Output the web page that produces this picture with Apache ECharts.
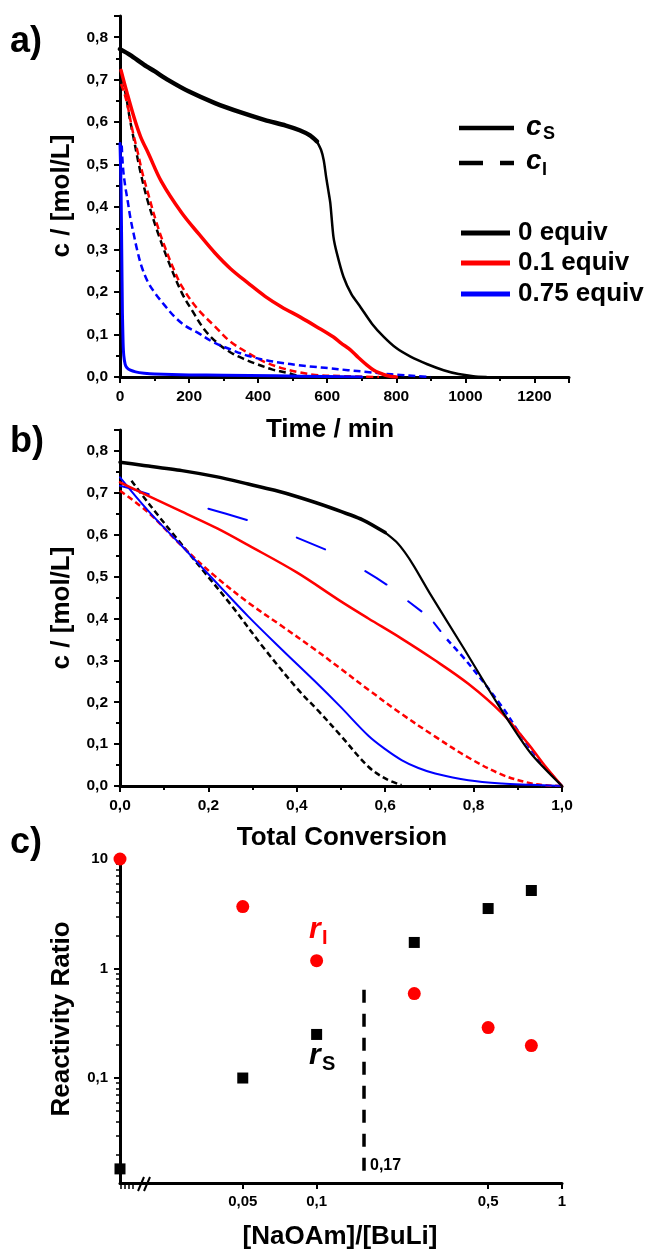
<!DOCTYPE html>
<html><head><meta charset="utf-8">
<script src="https://cdn.jsdelivr.net/npm/echarts@6/dist/echarts.min.js"></script>
<style>html,body{margin:0;padding:0;background:#fff}#c{width:651px;height:1251px}</style>
</head><body><div id="c"></div>
<script>
// ---------- Panel a: concentration vs time [min, mol/L] ----------
const aS0 = [[0,0.772],[30,0.758],[70,0.735],[100,0.72],[140,0.699],[200,0.672],[275,0.645],[350,0.623],[420,0.605],[480,0.592],[520,0.581],[550,0.569],[570,0.555],[582,0.535],[590,0.51],[597,0.47],[603,0.44],[609,0.409],[618,0.33],[628,0.291],[647,0.236],[670,0.195],[696,0.165],[730,0.125],[763,0.095],[800,0.068],[841,0.048],[890,0.03],[937,0.016],[980,0.007],[1023,0.002],[1060,0]];
const aI0 = [[8,0.70],[20,0.65],[29,0.605],[40,0.56],[58,0.487],[80,0.415],[110,0.339],[139,0.275],[179,0.198],[210,0.155],[246,0.11],[285,0.078],[324,0.056],[360,0.042],[391,0.032],[440,0.018],[487,0.009],[520,0.002],[550,0]];
const aS01 = [[3,0.722],[20,0.67],[43,0.605],[60,0.565],[82,0.527],[120,0.46],[179,0.386],[230,0.335],[275,0.292],[320,0.255],[371,0.221],[420,0.19],[468,0.165],[522,0.141],[570,0.118],[618,0.094],[640,0.08],[667,0.064],[690,0.046],[715,0.028],[735,0.016],[754,0.009],[775,0.003],[800,0]];
const aI01 = [[3,0.69],[12,0.67],[23,0.635],[35,0.585],[52,0.527],[65,0.48],[81,0.433],[105,0.365],[130,0.306],[155,0.255],[180,0.212],[225,0.16],[276,0.118],[320,0.083],[372,0.056],[420,0.035],[468,0.021],[520,0.011],[565,0.005],[650,0.002],[750,0]];
const aS075 = [[0,0.55],[3,0.45],[5,0.3],[7,0.15],[9,0.08],[11,0.05],[15,0.03],[20,0.022],[30,0.016],[45,0.012],[70,0.009],[100,0.007],[200,0.005],[300,0.004],[450,0.003],[600,0.001],[700,0]];
const aI075 = [[5,0.545],[9,0.49],[15,0.45],[22,0.416],[30,0.375],[39,0.339],[50,0.298],[63,0.259],[80,0.225],[101,0.198],[130,0.168],[159,0.141],[190,0.12],[226,0.104],[270,0.082],[323,0.064],[370,0.05],[420,0.04],[470,0.033],[517,0.028],[560,0.024],[604,0.021],[660,0.016],[715,0.012],[760,0.008],[812,0.005],[860,0.002],[900,0]];

// ---------- Panel b: concentration vs total conversion ----------
const bS0 = [[0,0.773],[0.05,0.766],[0.14,0.753],[0.22,0.738],[0.29,0.721],[0.35,0.706],[0.403,0.69],[0.475,0.665],[0.55,0.635],[0.6,0.605],[0.625,0.583],[0.645,0.557],[0.665,0.525],[0.701,0.46],[0.777,0.33],[0.852,0.2],[0.928,0.08],[1,0]];
const bI0 = [[0.026,0.729],[0.05,0.695],[0.087,0.645],[0.124,0.597],[0.192,0.509],[0.253,0.43],[0.328,0.326],[0.403,0.23],[0.45,0.178],[0.498,0.122],[0.562,0.046],[0.6,0.018],[0.637,0.002]];
const bS01 = [[0,0.725],[0.07,0.69],[0.14,0.655],[0.22,0.615],[0.29,0.575],[0.4,0.51],[0.498,0.442],[0.562,0.4],[0.637,0.352],[0.71,0.302],[0.788,0.244],[0.864,0.174],[0.924,0.1],[0.96,0.05],[1,0]];
const bI01 = [[0,0.705],[0.064,0.653],[0.14,0.573],[0.215,0.501],[0.29,0.438],[0.366,0.382],[0.441,0.326],[0.498,0.281],[0.562,0.23],[0.637,0.172],[0.713,0.118],[0.788,0.068],[0.864,0.027],[0.923,0.008],[0.96,0.002],[1,0]];
const bS075 = [[0,0.737],[0.064,0.657],[0.14,0.573],[0.215,0.489],[0.29,0.405],[0.366,0.326],[0.441,0.25],[0.498,0.19],[0.562,0.12],[0.6,0.088],[0.637,0.062],[0.675,0.043],[0.713,0.03],[0.788,0.014],[0.864,0.006],[0.93,0.003],[1,0]];
const bI075seg = [[0,0.717],[0.035,0.707],[0.065,0.697],null,[0.2,0.662],[0.24,0.65],[0.287,0.635],null,[0.4,0.593],[0.43,0.58],[0.464,0.565],null,[0.555,0.513],[0.58,0.497],[0.603,0.481],null,[0.652,0.441],[0.682,0.417],null,[0.71,0.39],[0.725,0.37]];
const bI075tail = [[0.74,0.35],[0.788,0.293],[0.864,0.19],[0.909,0.118],[0.95,0.06],[1,0]];

// ---------- Panel c: reactivity ratios vs [NaOAm]/[BuLi] ----------
const ratio = [0, 0.05, 0.1, 0.25, 0.5, 0.75];
const rI = [10, 3.68, 1.18, 0.59, 0.289, 0.198];
const rS = [0.0148, 0.1, 0.25, 1.73, 3.53, 5.16];
const critRatio = 0.156;           // dashed line position (labelled 0,17)
const critSpan = [0.0139, 0.64];
const cXMin = 0.0158;              // axis start (broken axis, holds the 0 equiv points)

const cxTicks = [0.05, 0.1, 0.5, 1];
const cyTicks = [0.1, 1, 10];
const cyMinor = [0.02,0.03,0.04,0.05,0.06,0.07,0.08,0.09,0.2,0.3,0.4,0.5,0.6,0.7,0.8,0.9,2,3,4,5,6,7,8,9];

const FONT = "'Liberation Sans', Arial, sans-serif";
const RED = '#ff0000', BLUE = '#0000ff', BLACK = '#000000';
const comma1 = v => (Math.abs(v*10 - Math.round(v*10)) < 1e-6) ? v.toFixed(1).replace('.', ',') : '';

function valAxis(grid, min, max, interval, fmt, extra) {
  return Object.assign({
    type: 'value', gridIndex: grid, min, max, interval,
    axisLine: {show: true, lineStyle: {color: BLACK, width: 3}},
    axisTick: {show: true, inside: false, length: 6, lineStyle: {color: BLACK, width: 2}},
    minorTick: {show: true, splitNumber: 2, length: 4, lineStyle: {color: BLACK, width: 2}},
    splitLine: {show: false},
    axisLabel: {show: true, margin: 12, formatter: fmt, color: BLACK, fontFamily: FONT, fontWeight: 'bold', fontSize: 15.5}
  }, extra || {});
}

function line(x, y, data, color, width, dash, smooth) {
  return {type: 'line', xAxisIndex: x, yAxisIndex: y, data, showSymbol: false, symbol: 'none',
    smooth: smooth === undefined ? 0.35 : smooth, connectNulls: false,
    lineStyle: {color, width, type: dash ? dash : 'solid', cap: dash ? 'butt' : 'round', join: 'round'}, z: 3, animation: false};
}

const chart = echarts.init(document.getElementById('c'), null, {renderer: 'canvas', width: 651, height: 1251});

const ptsI = ratio.map((r, i) => [r === 0 ? cXMin : r, rI[i]]);
const ptsS = ratio.map((r, i) => [r === 0 ? cXMin : r, rS[i]]);

function txt(x, y, text, size, extra, rot) {
  const o = {type: 'text', x, y, z: 10, style: Object.assign({text, font: 'bold ' + size + 'px ' + FONT, fill: BLACK, align: 'left', verticalAlign: 'middle'}, extra || {})};
  if (rot) o.rotation = rot;
  return o;
}
function seg(x1, y1, x2, y2, color, w) {
  return {type: 'line', z: 10, shape: {x1, y1, x2, y2}, style: {stroke: color, lineWidth: w}};
}
const V = Math.PI / 2;

const option = {
  animation: false,
  backgroundColor: '#fff',
  grid: [
    {left: 120, top: 16, width: 449, height: 361},
    {left: 120, top: 430, width: 442, height: 356},
    {left: 120, top: 855, width: 442, height: 328}
  ],
  xAxis: [
    valAxis(0, 0, 1300, 200, v => v === 1300 ? '' : String(v)),
    valAxis(1, 0, 1, 0.2, comma1),
    {type: 'log', gridIndex: 2, min: cXMin, max: 1, logBase: 10,
      axisLine: {show: true, lineStyle: {color: BLACK, width: 3}},
      axisTick: {show: true, inside: false, length: 6, customValues: cxTicks, lineStyle: {color: BLACK, width: 2}},
      minorTick: {show: false}, splitLine: {show: false},
      axisLabel: {show: true, margin: 11, customValues: cxTicks, formatter: v => String(v).replace('.', ','), color: BLACK, fontFamily: FONT, fontWeight: 'bold', fontSize: 15}}
  ],
  yAxis: [
    valAxis(0, 0, 0.85, 0.1, comma1),
    valAxis(1, 0, 0.85, 0.1, comma1),
    {type: 'log', gridIndex: 2, min: 0.011, max: 10.88, logBase: 10, position: 'left',
      axisLine: {show: true, lineStyle: {color: BLACK, width: 3}},
      axisTick: {show: true, inside: false, length: 6, customValues: cyTicks, lineStyle: {color: BLACK, width: 2}},
      minorTick: {show: false}, splitLine: {show: false},
      axisLabel: {show: true, margin: 12, customValues: cyTicks, formatter: v => String(v).replace('.', ','), color: BLACK, fontFamily: FONT, fontWeight: 'bold', fontSize: 15}},
    {type: 'log', gridIndex: 2, min: 0.011, max: 10.88, logBase: 10, position: 'left', offset: 0,
      axisLine: {show: false, onZero: false},
      axisTick: {show: true, inside: false, length: 4, customValues: cyMinor, lineStyle: {color: BLACK, width: 1.5}},
      axisLabel: {show: false}, splitLine: {show: false}}
  ],
  series: [
    line(0, 0, aI0, BLACK, 2.5, [7, 4]),
    line(0, 0, aI01, RED, 2.5, [7, 4]),
    line(0, 0, aI075, BLUE, 2.5, [7, 4]),
    line(0, 0, aS075, BLUE, 3, null, 0.1),
    line(0, 0, aS01, RED, 3.5),
    line(0, 0, aS0.slice(0, 13), BLACK, 4.5, null, 0.25),
    line(0, 0, aS0.slice(12), BLACK, 2.5, null, 0.25),

    line(1, 1, bI0, BLACK, 2.5, [6, 3.5]),
    line(1, 1, bI01, RED, 2.5, [6, 3.5]),
    line(1, 1, bI075seg, BLUE, 2, null, 0),
    line(1, 1, bI075tail, BLUE, 2.5, [6, 4]),
    line(1, 1, bS075, BLUE, 2),
    line(1, 1, bS01, RED, 2.5),
    line(1, 1, bS0.slice(0, 10), BLACK, 3.5, null, 0.25),
    line(1, 1, bS0.slice(9), BLACK, 2.2, null, 0.25),

    {type: 'line', xAxisIndex: 2, yAxisIndex: 2, showSymbol: false, symbol: 'none', smooth: false,
      lineStyle: {color: BLACK, width: 3.5, type: [13, 11]}, z: 3,
      endLabel: {show: true, distance: 6, offset: [0, -6], formatter: '0,17', color: BLACK, fontFamily: FONT, fontWeight: 'bold', fontSize: 16},
      data: [[critRatio, critSpan[1]], [critRatio, critSpan[0]]]},
    {type: 'scatter', xAxisIndex: 2, yAxisIndex: 2, symbol: 'circle', symbolSize: 13, itemStyle: {color: RED, opacity: 1}, data: ptsI, z: 4},
    {type: 'scatter', xAxisIndex: 2, yAxisIndex: 2, symbol: 'rect', symbolSize: 11, itemStyle: {color: BLACK, opacity: 1}, data: ptsS, z: 4}
  ],
  graphic: [
    // panel labels
    txt(10, 42, 'a)', 36), txt(10, 442, 'b)', 36), txt(10, 843, 'c)', 36),
    // axis titles
    txt(62, 196, 'c / [mol/L]', 26, {align: 'center'}, V),
    txt(62, 608, 'c / [mol/L]', 26, {align: 'center'}, V),
    txt(62, 1019, 'Reactivity Ratio', 26, {align: 'center'}, V),
    txt(330, 430, 'Time / min', 26, {align: 'center'}),
    txt(342, 838, 'Total Conversion', 26, {align: 'center'}),
    txt(340, 1237, '[NaOAm]/[BuLi]', 26, {align: 'center'}),
    // legend
    seg(459, 128, 514, 128, BLACK, 4.5),
    seg(459, 163, 483, 163, BLACK, 4.5), seg(500, 163, 514, 163, BLACK, 4.5),
    {type: 'text', x: 526, y: 127, z: 10, style: {text: 'c', font: 'italic bold 28px ' + FONT, fill: BLACK, verticalAlign: 'middle'}},
    {type: 'text', x: 543, y: 134, z: 10, style: {text: 'S', font: 'bold 18px ' + FONT, fill: BLACK, verticalAlign: 'middle'}},
    {type: 'text', x: 526, y: 161, z: 10, style: {text: 'c', font: 'italic bold 28px ' + FONT, fill: BLACK, verticalAlign: 'middle'}},
    {type: 'text', x: 542, y: 170, z: 10, style: {text: 'I', font: 'bold 18px ' + FONT, fill: BLACK, verticalAlign: 'middle'}},
    seg(461, 233, 510, 233, BLACK, 5), seg(461, 263, 510, 263, RED, 5), seg(461, 294, 510, 294, BLUE, 5),
    txt(518, 233, '0 equiv', 26), txt(518, 263, '0.1 equiv', 26), txt(518, 294, '0.75 equiv', 26),
    // panel c annotations
    {type: 'text', x: 309, y: 930, z: 10, style: {text: 'r', font: 'italic bold 30px ' + FONT, fill: RED, verticalAlign: 'middle'}},
    {type: 'text', x: 322, y: 938, z: 10, style: {text: 'I', font: 'bold 20px ' + FONT, fill: RED, verticalAlign: 'middle'}},
    {type: 'text', x: 309, y: 1056, z: 10, style: {text: 'r', font: 'italic bold 30px ' + FONT, fill: BLACK, verticalAlign: 'middle'}},
    {type: 'text', x: 322, y: 1064, z: 10, style: {text: 'S', font: 'bold 20px ' + FONT, fill: BLACK, verticalAlign: 'middle'}},
    // broken-axis marks on panel c x axis
    seg(121, 1183, 121, 1189, BLACK, 1.5), seg(125, 1183, 125, 1189, BLACK, 1.5),
    seg(129, 1183, 129, 1189, BLACK, 1.5), seg(133, 1183, 133, 1189, BLACK, 1.5),
    seg(138, 1191, 144, 1177, BLACK, 2), seg(144, 1191, 150, 1177, BLACK, 2)
  ]
};
chart.setOption(option);
</script></body></html>
